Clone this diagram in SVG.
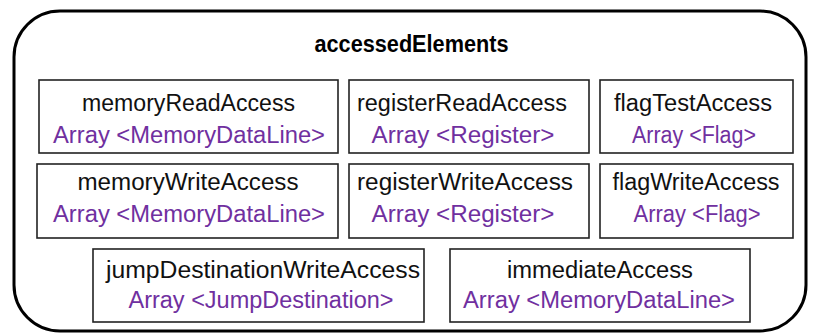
<svg xmlns="http://www.w3.org/2000/svg" width="819" height="334" viewBox="0 0 819 334">
<style>
.outer{fill:#fff;stroke:#000;stroke-width:3}
.box{fill:#fff;stroke:#222;stroke-width:1.6}
.t{font-family:"Liberation Sans",Arial,sans-serif;font-size:23px;fill:#111;text-anchor:middle}
.p{font-family:"Liberation Sans",Arial,sans-serif;font-size:23px;fill:#7030a0;text-anchor:middle}
.h{font-family:"Liberation Sans",Arial,sans-serif;font-size:23px;font-weight:bold;fill:#000;text-anchor:middle}
</style>
<rect width="819" height="334" fill="#fff"/>
<g id="accessedElements">
<rect class="outer" x="14" y="11" width="792" height="320" rx="46" ry="46"/>
<text class="h" x="411.5" y="52" textLength="194" lengthAdjust="spacingAndGlyphs">accessedElements</text>
</g>
<g id="memoryReadAccess">
<rect class="box" x="39" y="80" width="299" height="73"/>
<text class="t" x="188.5" y="111" textLength="213" lengthAdjust="spacingAndGlyphs">memoryReadAccess</text>
<text class="p" x="189" y="143" textLength="272" lengthAdjust="spacingAndGlyphs">Array &lt;MemoryDataLine&gt;</text>
</g>
<g id="registerReadAccess">
<rect class="box" x="349" y="80" width="240" height="73"/>
<text class="t" x="462" y="111" textLength="210" lengthAdjust="spacingAndGlyphs">registerReadAccess</text>
<text class="p" x="463" y="143" textLength="183" lengthAdjust="spacingAndGlyphs">Array &lt;Register&gt;</text>
</g>
<g id="flagTestAccess">
<rect class="box" x="600" y="80" width="193" height="73"/>
<text class="t" x="693" y="111" textLength="158" lengthAdjust="spacingAndGlyphs">flagTestAccess</text>
<text class="p" x="694" y="143" textLength="124" lengthAdjust="spacingAndGlyphs">Array &lt;Flag&gt;</text>
</g>
<g id="memoryWriteAccess">
<rect class="box" x="37" y="164" width="301" height="74"/>
<text class="t" x="188" y="190" textLength="221" lengthAdjust="spacingAndGlyphs">memoryWriteAccess</text>
<text class="p" x="189" y="222" textLength="272" lengthAdjust="spacingAndGlyphs">Array &lt;MemoryDataLine&gt;</text>
</g>
<g id="registerWriteAccess">
<rect class="box" x="349" y="164" width="240" height="74"/>
<text class="t" x="465" y="190" textLength="216" lengthAdjust="spacingAndGlyphs">registerWriteAccess</text>
<text class="p" x="463" y="222" textLength="183" lengthAdjust="spacingAndGlyphs">Array &lt;Register&gt;</text>
</g>
<g id="flagWriteAccess">
<rect class="box" x="600" y="164" width="193" height="74"/>
<text class="t" x="696" y="190" textLength="167" lengthAdjust="spacingAndGlyphs">flagWriteAccess</text>
<text class="p" x="697" y="222" textLength="127" lengthAdjust="spacingAndGlyphs">Array &lt;Flag&gt;</text>
</g>
<g id="jumpDestinationWriteAccess">
<rect class="box" x="93" y="249" width="331" height="73"/>
<text class="t" x="263" y="278" textLength="314" lengthAdjust="spacingAndGlyphs">jumpDestinationWriteAccess</text>
<text class="p" x="261" y="308" textLength="265" lengthAdjust="spacingAndGlyphs">Array &lt;JumpDestination&gt;</text>
</g>
<g id="immediateAccess">
<rect class="box" x="450" y="249" width="300" height="73"/>
<text class="t" x="600" y="278" textLength="186" lengthAdjust="spacingAndGlyphs">immediateAccess</text>
<text class="p" x="599" y="308" textLength="272" lengthAdjust="spacingAndGlyphs">Array &lt;MemoryDataLine&gt;</text>
</g>
<g id="connectors"/>
</svg>
